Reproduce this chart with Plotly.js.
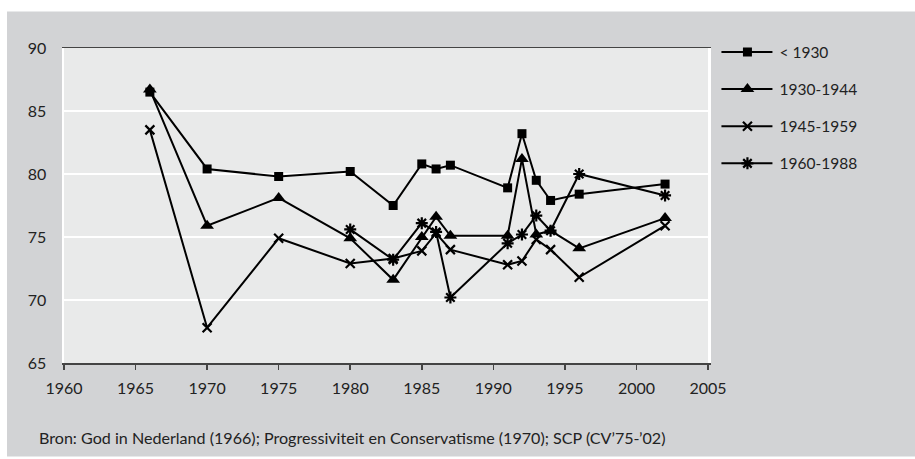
<!DOCTYPE html>
<html>
<head>
<meta charset="utf-8">
<script src="https://cdn.plot.ly/plotly-3.0.1.min.js"></script>
<style>html,body{margin:0;padding:0;background:#fff;}</style>
</head>
<body>
<div id="chart" style="width:915px;height:459px;"></div>
<script>
const years = [1966, 1970, 1975, 1980, 1983, 1985, 1986, 1987, 1991, 1992, 1993, 1994, 1996, 2002];
const seriesNames = ['< 1930', '1930-1944', '1945-1959', '1960-1988'];
const before1930 = [86.5, 80.4, 79.8, 80.2, 77.5, 80.8, 80.4, 80.7, 78.9, 83.2, 79.5, 77.9, 78.4, 79.2];
const c1930_1944 = [86.7, 75.9, 78.1, 74.9, 71.6, 75.0, 76.6, 75.1, 75.1, 81.2, 75.2, 75.5, 74.1, 76.5];
const c1945_1959 = [83.5, 67.8, 74.9, 72.9, 73.3, 73.9, 75.3, 74.0, 72.8, 73.1, 74.8, 74.0, 71.8, 75.9];
const c1960_1988 = [null, null, null, 75.6, 73.2, 76.1, 75.4, 70.2, 74.5, 75.2, 76.7, 75.5, 80.0, 78.3];
const xTicks = [1960, 1965, 1970, 1975, 1980, 1985, 1990, 1995, 2000, 2005];
const yTicks = [65, 70, 75, 80, 85, 90];
const sourceText = 'Bron: God in Nederland (1966); Progressiviteit en Conservatisme (1970); SCP (CV\u201975-\u201902)';

const FONT = 'Lato, "Open Sans", sans-serif';
const values = [before1930, c1930_1944, c1945_1959, c1960_1988];
const markers = [
  {symbol: 'square', size: 9, color: '#000'},
  {symbol: 'triangle-up', size: 12, color: '#000'},
  {symbol: 'x-thin-open', size: 9, color: '#000', line: {width: 2.2, color: '#000'}},
  {symbol: 'asterisk-open', size: 10, color: '#000', line: {width: 2.2, color: '#000'}}
];
const traces = values.map((v, i) => ({
  type: 'scatter', mode: 'lines+markers',
  x: years, y: v, name: seriesNames[i], legendgroup: 'g' + i,
  connectgaps: false,
  line: {color: '#000', width: 2},
  marker: markers[i]
}));

const layout = {
  width: 915, height: 459,
  margin: {l: 64, r: 207, t: 48, b: 96, pad: 0},
  paper_bgcolor: '#ffffff',
  plot_bgcolor: 'rgba(0,0,0,0)',
  font: {family: FONT, color: '#222', size: 16},
  showlegend: true,
  legend: {
    xref: 'container', yref: 'container', x: 0.783, y: 0.923,
    xanchor: 'left', yanchor: 'top',
    bgcolor: 'rgba(0,0,0,0)', borderwidth: 0,
    font: {family: FONT, size: 15.5, color: '#222'},
    tracegroupgap: 14, itemwidth: 53
  },
  xaxis: {
    range: [1960, 2005], tickvals: xTicks, ticktext: xTicks.map(String),
    showgrid: false, zeroline: false,
    showline: true, linecolor: '#444', linewidth: 1.5, mirror: true,
    ticks: 'outside', ticklen: 5, tickwidth: 1.5, tickcolor: '#444',
    ticklabelstandoff: 5,
    tickfont: {family: FONT, size: 16, color: '#222'}
  },
  yaxis: {
    range: [65, 90], tickvals: yTicks, ticktext: yTicks.map(String),
    showgrid: true, gridcolor: '#ffffff', gridwidth: 2.5,
    zeroline: false, showline: true, linecolor: '#ffffff', linewidth: 2.5, mirror: true,
    ticks: '', ticklabelstandoff: 12,
    tickfont: {family: FONT, size: 16, color: '#222'}
  },
  shapes: [
    {type: 'rect', xref: 'paper', yref: 'paper', layer: 'below',
     x0: -0.0885, x1: 1.33, y0: -0.297, y1: 1.116,
     fillcolor: '#d2d3d5', line: {width: 0}},
    {type: 'rect', xref: 'paper', yref: 'paper', layer: 'below',
     x0: 0, x1: 1, y0: 0, y1: 1,
     fillcolor: '#e9eaea', line: {width: 0}}
  ],
  annotations: [{
    xref: 'paper', yref: 'paper', x: -0.0419, y: -0.237,
    xanchor: 'left', yanchor: 'middle', showarrow: false,
    text: sourceText, font: {family: FONT, size: 16.1, color: '#222'}
  }]
};

Plotly.newPlot('chart', traces, layout, {displayModeBar: false, staticPlot: true}).then(function () {
  // lengthen the legend sample lines to match the reference style
  document.querySelectorAll('.legend .traces').forEach(function (t) {
    t.querySelectorAll('.legendlines path').forEach(function (p) {
      p.setAttribute('d', 'M5,0h51');
    });
    t.querySelectorAll('.legendpoints path').forEach(function (p) {
      p.setAttribute('transform', 'translate(31,0)');
    });
  });
});
</script>
</body>
</html>
